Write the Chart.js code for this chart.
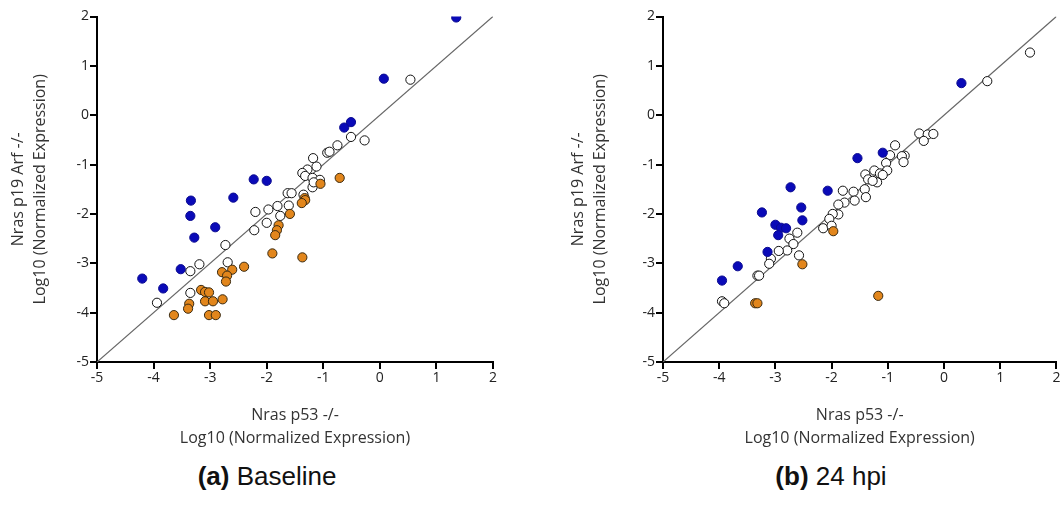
<!DOCTYPE html>
<html>
<head>
<meta charset="utf-8">
<script src="https://cdn.jsdelivr.net/npm/chart.js@4/dist/chart.umd.min.js"></script>
<style>
  html, body { margin: 0; padding: 0; background: #fff; }
  body { width: 1062px; height: 511px; position: relative; overflow: hidden; }
  .panel { position: absolute; top: 0; height: 450px; }
  #panelA { left: 0; width: 540px; }
  #panelB { left: 560px; width: 502px; }
  .caption {
    position: absolute; top: 461px; font: 26px/30px "Liberation Sans", Arial, sans-serif;
    color: #111; text-align: center; width: 300px;
  }
  .caption b { font-weight: bold; }
</style>
</head>
<body>
<div class="panel" id="panelA"><canvas id="chartA"></canvas></div>
<div class="panel" id="panelB"><canvas id="chartB"></canvas></div>
<div class="caption" style="left:117px"><b>(a)</b> Baseline</div>
<div class="caption" style="left:681px"><b>(b)</b> 24 hpi</div>
<script>
// axis range / tick labels shared by both panels
const tickValues = [-5, -4, -3, -2, -1, 0, 1, 2];
const xTitle = ['Nras p53 -/-', 'Log10 (Normalized Expression)'];
const yTitle = ['Nras p19 Arf -/-', 'Log10 (Normalized Expression)'];

// Baseline: [p53, p19Arf] log10 values
const baseUp = [
  [1.35, 1.98], [0.07, 0.74], [-0.63, -0.25], [-0.51, -0.14], [-2.23, -1.30],
  [-2.00, -1.33], [-2.59, -1.67], [-3.34, -1.73], [-3.35, -2.04], [-2.91, -2.27],
  [-3.28, -2.48], [-3.52, -3.12], [-4.20, -3.31], [-3.83, -3.51]
];
const baseSame = [
  [0.54, 0.72], [-0.51, -0.44], [-0.27, -0.51], [-0.75, -0.61], [-0.93, -0.76],
  [-0.89, -0.74], [-1.18, -0.87], [-1.12, -1.04], [-1.28, -1.10], [-1.37, -1.17],
  [-1.32, -1.23], [-1.19, -1.27], [-1.06, -1.31], [-1.19, -1.46], [-1.17, -1.36],
  [-1.63, -1.58], [-1.56, -1.58], [-1.35, -1.61], [-1.61, -1.83], [-1.81, -1.84],
  [-1.97, -1.91], [-2.20, -1.96], [-1.76, -2.04], [-2.00, -2.18], [-2.22, -2.33],
  [-2.73, -2.63], [-2.69, -2.98], [-3.19, -3.02], [-3.35, -3.16], [-3.35, -3.60],
  [-3.94, -3.80]
];
const baseDown = [
  [-0.71, -1.27], [-1.05, -1.39], [-1.33, -1.68], [-1.32, -1.72], [-1.38, -1.78],
  [-1.59, -2.00], [-1.79, -2.23], [-1.82, -2.33], [-1.85, -2.43], [-1.90, -2.80],
  [-1.37, -2.88], [-2.40, -3.07], [-2.61, -3.13], [-2.79, -3.18], [-2.70, -3.25],
  [-2.72, -3.37], [-3.16, -3.54], [-3.09, -3.58], [-3.02, -3.59], [-3.09, -3.77],
  [-2.95, -3.77], [-2.78, -3.73], [-3.37, -3.82], [-3.39, -3.92], [-3.64, -4.05],
  [-3.02, -4.05], [-2.90, -4.05]
];

// 24 hpi
const hpiUp = [
  [0.31, 0.65], [-1.09, -0.76], [-1.54, -0.87], [-2.73, -1.46], [-2.07, -1.53],
  [-3.24, -1.97], [-2.54, -1.87], [-2.52, -2.13], [-3.00, -2.22], [-2.90, -2.28],
  [-2.81, -2.29], [-2.95, -2.43], [-3.14, -2.77], [-3.67, -3.06], [-3.95, -3.35]
];
const hpiSame = [
  [1.53, 1.27], [0.77, 0.69], [-0.44, -0.37], [-0.29, -0.39], [-0.19, -0.38],
  [-0.36, -0.52], [-0.87, -0.61], [-0.70, -0.82], [-0.96, -0.81], [-0.75, -0.83],
  [-0.72, -0.95], [-1.03, -0.97], [-1.01, -1.12], [-1.24, -1.12], [-1.14, -1.18],
  [-1.09, -1.21], [-1.40, -1.20], [-1.35, -1.30], [-1.19, -1.36], [-1.27, -1.33],
  [-1.41, -1.50], [-1.39, -1.66], [-1.61, -1.55], [-1.59, -1.73], [-1.80, -1.53],
  [-1.77, -1.77], [-1.88, -1.81], [-1.88, -2.01], [-1.98, -2.00], [-2.04, -2.10],
  [-2.15, -2.29], [-2.00, -2.24], [-2.61, -2.38], [-2.75, -2.50], [-2.68, -2.61],
  [-2.79, -2.74], [-2.94, -2.75], [-2.58, -2.84], [-3.08, -2.91], [-3.11, -3.01],
  [-3.32, -3.25], [-3.29, -3.25], [-3.95, -3.77], [-3.91, -3.81]
];
const hpiDown = [
  [-1.97, -2.35], [-2.52, -3.02], [-1.17, -3.66], [-3.36, -3.81], [-3.32, -3.81]
];

const toPoints = pairs => pairs.map(([x, y]) => ({ x, y }));

const fontFamily = '"Open Sans", Lato, sans-serif';

function axis(isX, sideWidth) {
    return {
        type: 'linear',
        min: tickValues[0],
        max: tickValues[tickValues.length - 1],
        afterBuildTicks: s => { s.ticks = tickValues.map(v => ({ value: v })); },
        afterFit: s => { if (isX) s.height = 88; else s.width = sideWidth; },
        border: { color: '#000', width: 2 },
        grid: { drawOnChartArea: false, drawTicks: true, tickLength: 7, color: '#000', lineWidth: 2 },
        ticks: { color: '#222', font: { family: fontFamily, size: 14 }, padding: 1, maxRotation: 0 },
        title: {
            display: true,
            text: isX ? xTitle : yTitle,
            color: '#333',
            font: { family: fontFamily, size: 16, lineHeight: isX ? '23px' : '22px' },
            padding: isX ? { top: 0, bottom: 0 } : { top: 7, bottom: 0 }
        }
    };
}

function makeChart(id, up, same, down, sideWidth, rightPad) {
    const pt = { pointRadius: 4.6, pointHoverRadius: 4.6, showLine: false };
    new Chart(document.getElementById(id), {
        type: 'scatter',
        data: {
            datasets: [
                { ...pt, data: toPoints(same), backgroundColor: '#ffffff', borderColor: '#111', borderWidth: 1, order: 2 },
                { ...pt, data: toPoints(down), backgroundColor: '#e2861c', borderColor: '#3a2a10', borderWidth: 1, order: 1 },
                { ...pt, data: toPoints(up), backgroundColor: '#0a0ab8', borderColor: '#0a0a90', borderWidth: 1, order: 1 },
                // identity line y = x
                {
                    type: 'line',
                    data: [{ x: tickValues[0], y: tickValues[0] }, { x: tickValues[7], y: tickValues[7] }],
                    borderColor: '#666', borderWidth: 1.2, pointRadius: 0, fill: false, order: 10
                }
            ]
        },
        options: {
            responsive: true,
            maintainAspectRatio: false,
            animation: false,
            layout: { padding: { top: 16.5, right: rightPad, left: 0, bottom: 0 } },
            plugins: { legend: { display: false }, tooltip: { enabled: false } },
            scales: { x: axis(true), y: axis(false, sideWidth) }
        }
    });
}

makeChart('chartA', baseUp, baseSame, baseDown, 97, 47);
makeChart('chartB', hpiUp, hpiSame, hpiDown, 103, 5);
</script>
</body>
</html>
